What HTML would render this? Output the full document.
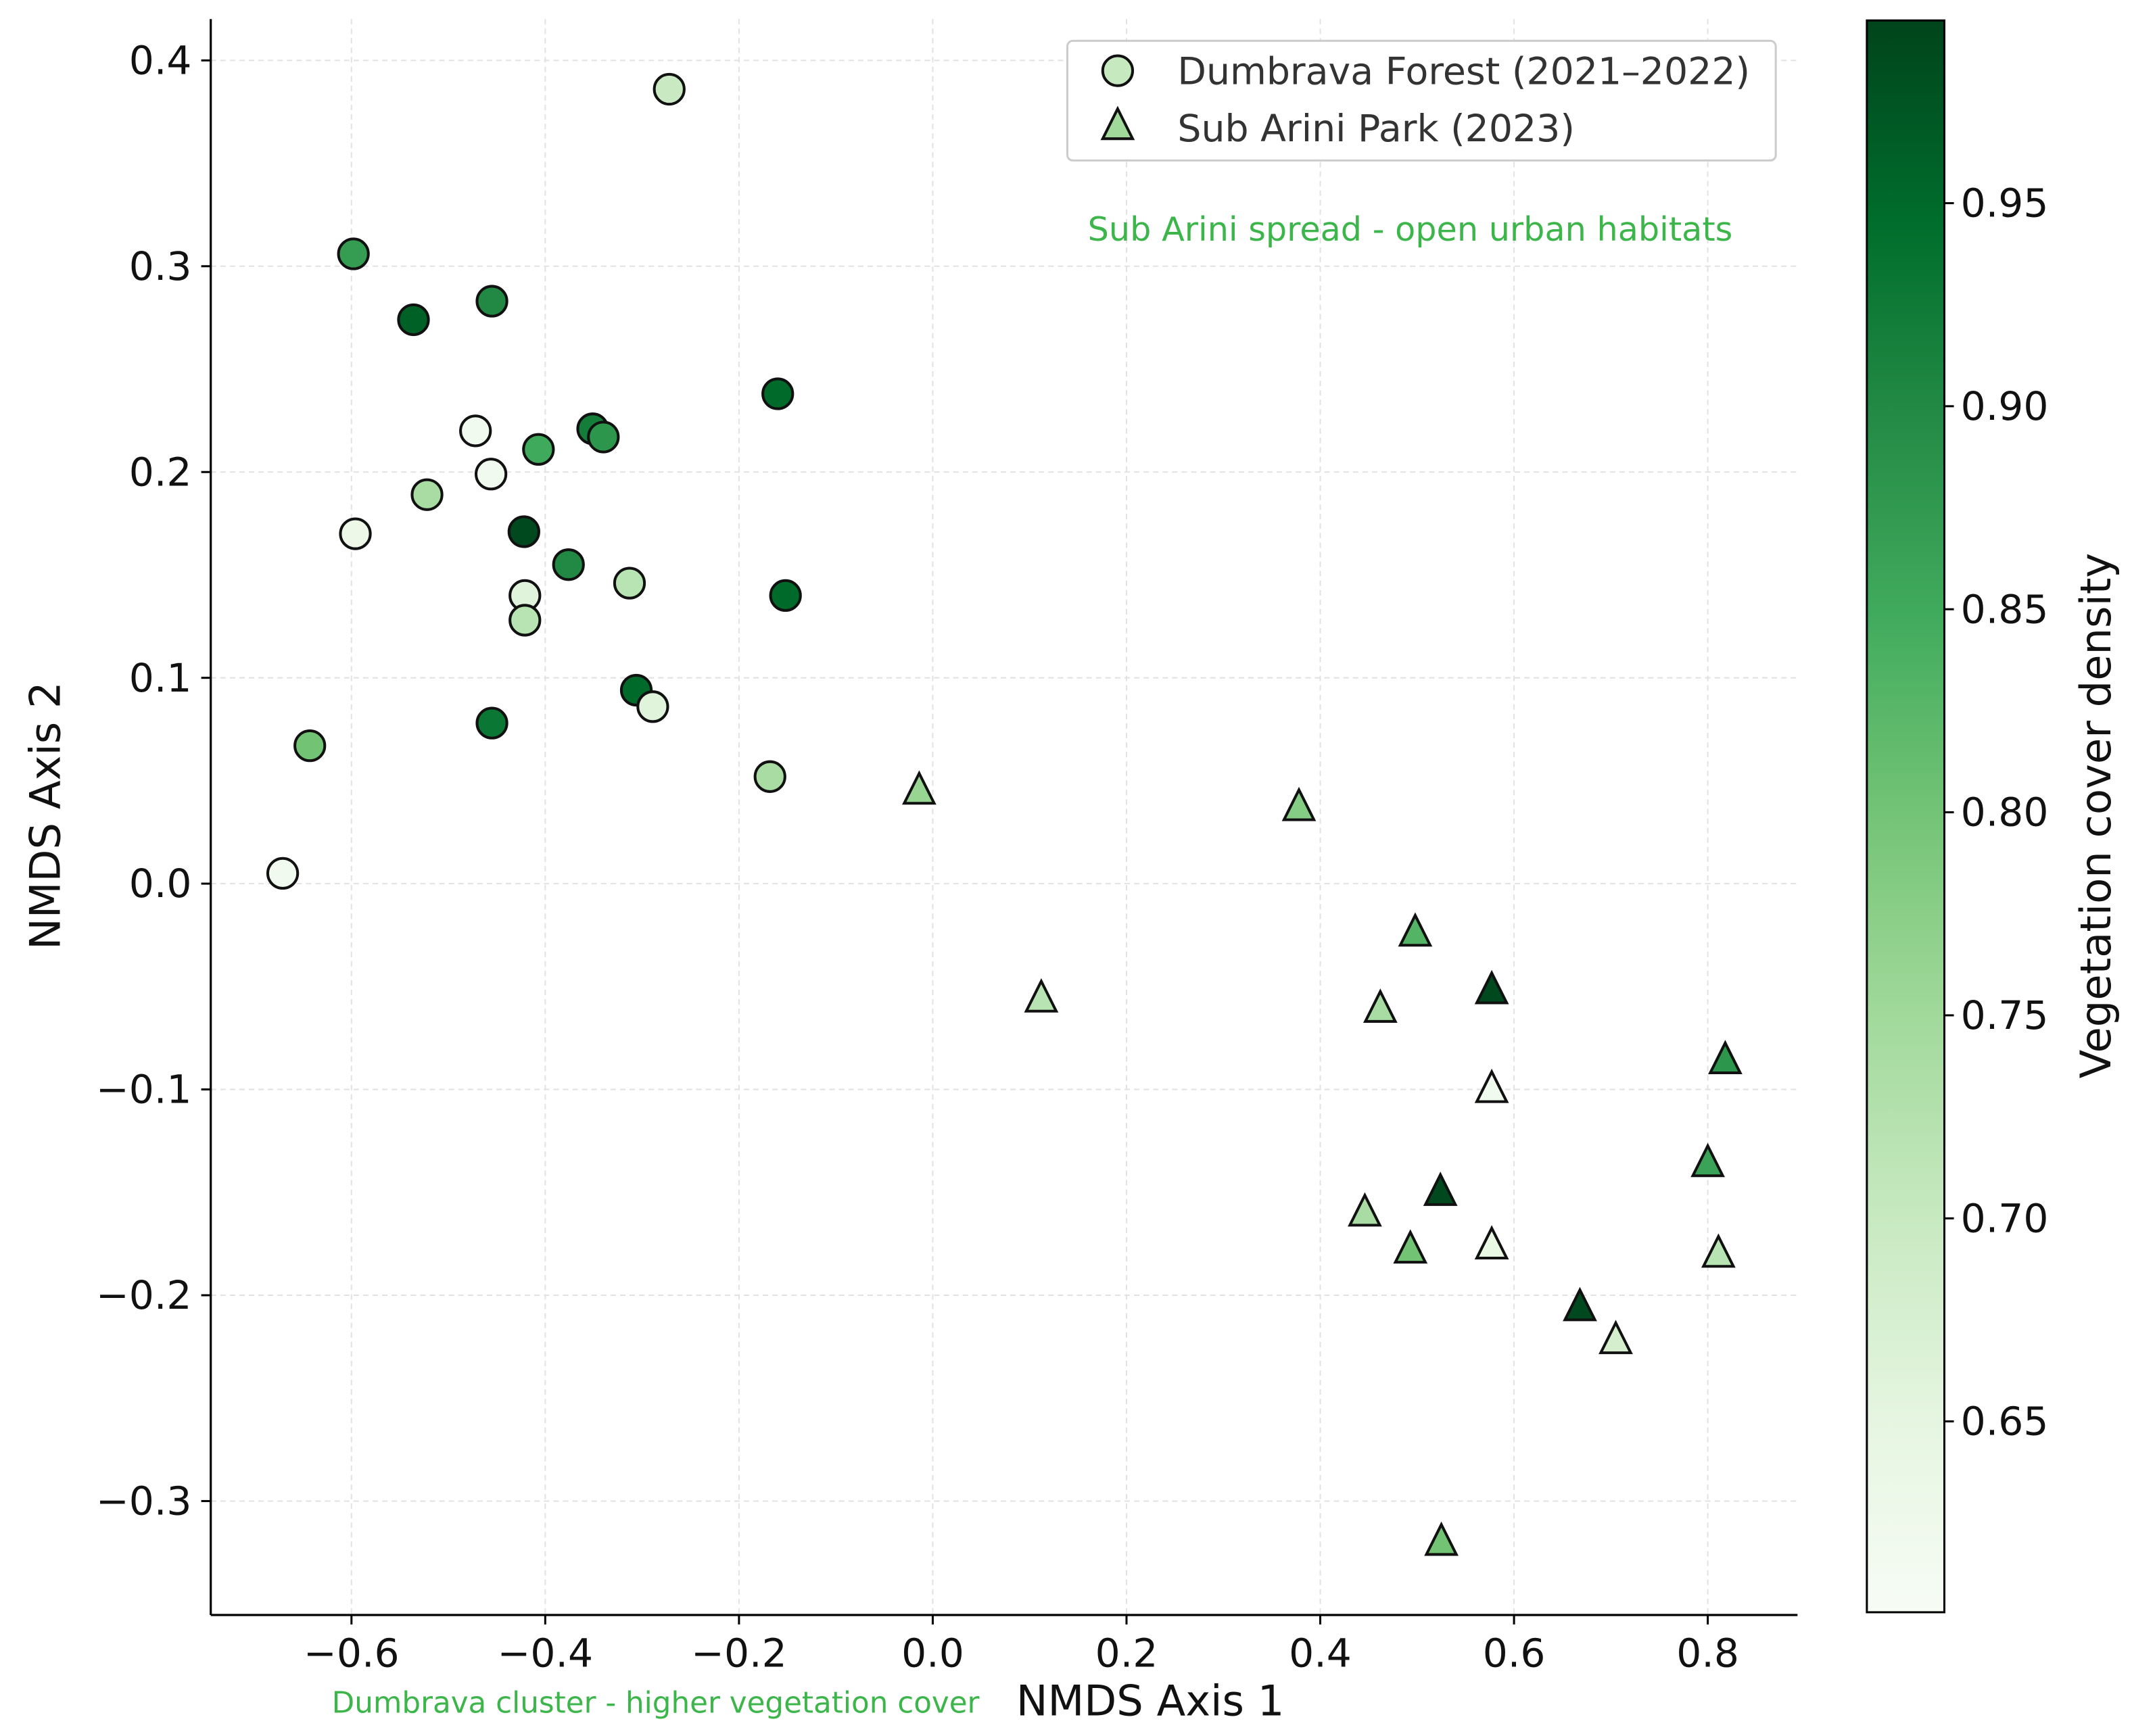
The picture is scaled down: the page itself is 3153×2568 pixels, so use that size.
<!DOCTYPE html>
<html><head><meta charset="utf-8"><style>
html,body{margin:0;padding:0;background:#fff}
svg{display:block}
text{font-family:"DejaVu Sans","Liberation Sans",sans-serif}
</style></head><body>
<svg id="chart" width="3153" height="2568" viewBox="0 0 1568 1277" xmlns="http://www.w3.org/2000/svg">
<defs>
<linearGradient id="cbar" x1="0" y1="1" x2="0" y2="0">
<stop offset="0" stop-color="#f7fcf5"/><stop offset="0.125" stop-color="#e5f5e0"/><stop offset="0.25" stop-color="#c7e9c0"/><stop offset="0.375" stop-color="#a1d99b"/><stop offset="0.5" stop-color="#74c476"/><stop offset="0.625" stop-color="#41ab5d"/><stop offset="0.75" stop-color="#238b45"/><stop offset="0.875" stop-color="#006d2c"/><stop offset="1" stop-color="#00441b"/>
</linearGradient>
</defs>
<g id="grid"></g>
<g id="marks"></g>
<g id="axes"></g>
</svg>
<script>
const xTicks=[-0.6,-0.4,-0.2,0.0,0.2,0.4,0.6,0.8];
const yTicks=[0.4,0.3,0.2,0.1,0.0,-0.1,-0.2,-0.3];
const cbTicks=[0.65,0.70,0.75,0.80,0.85,0.90,0.95];
const dumX=[-0.272,-0.598,-0.536,-0.455,-0.16,-0.472,-0.351,-0.34,-0.407,-0.456,-0.522,-0.596,-0.422,-0.376,-0.421,-0.313,-0.152,-0.421,-0.306,-0.289,-0.455,-0.643,-0.168,-0.671];
const dumY=[0.386,0.306,0.274,0.283,0.238,0.22,0.221,0.217,0.211,0.199,0.189,0.170,0.171,0.155,0.14,0.146,0.14,0.128,0.094,0.086,0.078,0.067,0.052,0.005];
const dumV=[0.70,0.87,0.96,0.90,0.95,0.62,0.92,0.88,0.85,0.62,0.74,0.63,0.99,0.90,0.66,0.72,0.95,0.72,0.95,0.66,0.93,0.80,0.74,0.62];
const subX=[-0.014,0.378,0.498,0.577,0.112,0.462,0.818,0.577,0.8,0.524,0.446,0.493,0.577,0.811,0.668,0.705,0.525];
const subY=[0.045,0.037,-0.024,-0.052,-0.056,-0.061,-0.086,-0.1,-0.136,-0.15,-0.160,-0.178,-0.176,-0.18,-0.206,-0.222,-0.32];
const subV=[0.76,0.78,0.83,0.99,0.72,0.74,0.88,0.62,0.86,0.99,0.74,0.80,0.64,0.72,0.99,0.68,0.80];

const NS="http://www.w3.org/2000/svg";
const L=155,R=1322,T=14,B=1188;
const sx=v=>686+v*712.5, sy=v=>650-v*1514;
const cbTop=15,cbBot=1186,cMin=0.603,cMax=0.995;
const cy=v=>cbBot-(v-cMin)/(cMax-cMin)*(cbBot-cbTop);
const stops=[[247,252,245],[229,245,224],[199,233,192],[161,217,155],[116,196,118],[65,171,93],[35,139,69],[0,109,44],[0,68,27]];
function cmap(v){let t=Math.max(0,Math.min(1,(v-cMin)/(cMax-cMin)))*8;let i=Math.min(7,Math.floor(t)),f=t-i;const a=stops[i],b=stops[i+1];return 'rgb('+a.map((c,k)=>Math.round(c+(b[k]-c)*f)).join(',')+')';}
function mk(tag,attrs,parent){const e=document.createElementNS(NS,tag);for(const k in attrs)e.setAttribute(k,attrs[k]);parent.appendChild(e);return e;}
const grid=document.getElementById('grid'),marks=document.getElementById('marks'),axes=document.getElementById('axes');
xTicks.forEach(v=>{const e=mk('line',{x1:sx(v),x2:sx(v),y1:T,y2:B,stroke:'#e2e2e2','stroke-dasharray':'4,3','stroke-width':1},grid);

});
yTicks.forEach(v=>{const e=mk('line',{x1:L,x2:R,y1:sy(v),y2:sy(v),stroke:'#e2e2e2','stroke-dasharray':'4,3','stroke-width':1},grid);

});
dumX.forEach((x,i)=>{const e=mk('circle',{cx:sx(x),cy:sy(dumY[i]),r:11,fill:cmap(dumV[i]),stroke:'#111','stroke-width':2},marks);

});
subX.forEach((x,i)=>{const px=sx(x),py=sy(subY[i]);const e=mk('polygon',{points:`${px},${py-13} ${px-11},${py+9} ${px+11},${py+9}`,fill:cmap(subV[i]),stroke:'#111','stroke-width':2,'stroke-linejoin':'miter'},marks);

});
mk('line',{x1:L,x2:L,y1:T,y2:B,stroke:'#000','stroke-width':1.6},axes);
mk('line',{x1:L,x2:R,y1:B,y2:B,stroke:'#000','stroke-width':1.6},axes);
xTicks.forEach(v=>{mk('line',{x1:sx(v),x2:sx(v),y1:B,y2:B+7,stroke:'#000','stroke-width':1.5},axes);
const t=mk('text',{x:sx(v),y:B+38,'text-anchor':'middle','font-size':29,fill:'#111'},axes);t.textContent=(v<0?'\u2212':'')+Math.abs(v).toFixed(1);

});
yTicks.forEach(v=>{mk('line',{x1:L-7,x2:L,y1:sy(v),y2:sy(v),stroke:'#000','stroke-width':1.5},axes);
const t=mk('text',{x:L-14,y:sy(v)+10,'text-anchor':'end','font-size':29,fill:'#111'},axes);t.textContent=(v<0?'\u2212':'')+Math.abs(v).toFixed(1);

});
const cb=mk('rect',{x:1373,y:cbTop,width:57,height:cbBot-cbTop,fill:'url(#cbar)',stroke:'#000','stroke-width':1.5},axes);


cbTicks.forEach(v=>{mk('line',{x1:1430,x2:1437,y1:cy(v),y2:cy(v),stroke:'#000','stroke-width':1.5},axes);
const t=mk('text',{x:1442,y:cy(v)+10,'font-size':29,fill:'#111'},axes);t.textContent=v.toFixed(2);

});
</script>
<svg style="position:absolute;left:0;top:0" width="3153" height="2568" viewBox="0 0 1568 1277" xmlns="http://www.w3.org/2000/svg">
<text x="846" y="1262" text-anchor="middle" font-size="31" fill="#111" font-family="DejaVu Sans, sans-serif">NMDS Axis 1</text>
<text transform="translate(44,600) rotate(-90)" text-anchor="middle" font-size="31" fill="#111" font-family="DejaVu Sans, sans-serif">NMDS Axis 2</text>
<text transform="translate(1552,600) rotate(-90)" text-anchor="middle" font-size="31" fill="#111" font-family="DejaVu Sans, sans-serif">Vegetation cover density</text>
<text x="244" y="1260" font-size="21.7" fill="#3cb54a" font-family="DejaVu Sans, sans-serif">Dumbrava cluster - higher vegetation cover</text>
<text x="800" y="177" font-size="24.5" fill="#3cb54a" font-family="DejaVu Sans, sans-serif">Sub Arini spread - open urban habitats</text>
<g>
<rect x="785" y="30" width="521" height="88" rx="4" fill="#fff" stroke="#ccc" stroke-width="1.5"/>
<circle cx="822" cy="52" r="11" fill="#c7e9c0" stroke="#111" stroke-width="2"/>
<polygon points="822,80 811,102 833,102" fill="#a1d99b" stroke="#111" stroke-width="2"/>
<text x="866" y="62" font-size="27.5" fill="#333" font-family="DejaVu Sans, sans-serif">Dumbrava Forest (2021–2022)</text>
<text x="866" y="104" font-size="27.5" fill="#333" font-family="DejaVu Sans, sans-serif">Sub Arini Park (2023)</text>
</g>
</svg>
</body></html>
